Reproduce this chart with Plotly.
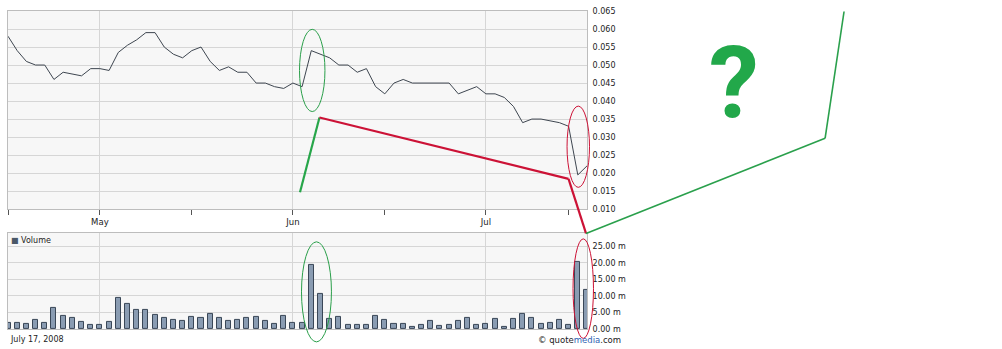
import pandas as pd
import plotly.graph_objects as go

# ---- data -------------------------------------------------------------
trading_days = [d.strftime("%Y-%m-%d") for d in pd.bdate_range("2008-04-17", "2008-07-17")
                if d.strftime("%Y-%m-%d") not in ("2008-05-26", "2008-07-04")]

price = [0.058, 0.054, 0.051, 0.050, 0.050, 0.046, 0.048, 0.0475, 0.047, 0.049,
         0.049, 0.0485, 0.0535, 0.0555, 0.057, 0.059, 0.059, 0.055, 0.053, 0.052,
         0.054, 0.055, 0.051, 0.0485, 0.0495, 0.048, 0.048, 0.045, 0.045, 0.044,
         0.0435, 0.045, 0.044, 0.054, 0.053, 0.052, 0.050, 0.050, 0.048, 0.049,
         0.044, 0.042, 0.045, 0.046, 0.045, 0.045, 0.045, 0.045, 0.045, 0.042,
         0.043, 0.044, 0.042, 0.042, 0.041, 0.0385, 0.034, 0.035, 0.035, 0.0345,
         0.034, 0.033, 0.0195, 0.022]

volume_m = [1.7, 1.7, 1.4, 2.6, 1.7, 6.5, 4.1, 3.5, 2.0, 1.1,
            1.1, 2.0, 9.5, 7.7, 5.9, 5.9, 4.4, 3.2, 2.6, 2.3,
            3.8, 3.2, 4.7, 3.5, 2.3, 2.6, 3.5, 3.8, 2.3, 1.4,
            4.1, 1.7, 1.7, 19.2, 10.5, 2.9, 3.8, 1.1, 1.1, 1.1,
            4.1, 2.6, 1.4, 1.4, 0.5, 1.1, 2.3, 0.8, 1.1, 2.3,
            3.2, 1.1, 1.4, 2.9, 0.5, 2.9, 4.7, 3.2, 1.4, 1.7,
            2.6, 1.1, 20.3, 11.7]

month_days = ["2008-05-01", "2008-06-02", "2008-07-01"]
month_labels = ["May", "Jun", "Jul"]
mid_days = ["2008-04-17", "2008-05-15", "2008-06-16", "2008-07-15"]

price_ticks = [0.010, 0.015, 0.020, 0.025, 0.030, 0.035, 0.040, 0.045, 0.050, 0.055, 0.060, 0.065]
vol_ticks = [0, 5, 10, 15, 20, 25]
vol_tick_text = ["0.00 m", "5.00 m", "10.00 m", "15.00 m", "20.00 m", "25.00 m"]

# ---- figure -----------------------------------------------------------
idx = list(range(len(trading_days)))
major = [trading_days.index(d) for d in month_days]
minor = [trading_days.index(d) for d in mid_days]

W, H = 1002, 349
ML, MR, MT, MB = 7, 415, 8, 20
PW, PH = W - ML - MR, H - MT - MB


def xp(px):
    return (px - ML) / PW


def yp(py):
    return (H - MB - py) / PH


FONT = "DejaVu Sans, Verdana, sans-serif"
GRID = "#d6d6d6"
BORDER = "#bdbdbd"

fig = go.Figure()
fig.add_trace(go.Scatter(x=idx, y=price, mode="lines",
                         line=dict(color="#3e4650", width=1), xaxis="x", yaxis="y",
                         showlegend=False, hoverinfo="skip"))
fig.add_trace(go.Bar(x=idx, y=volume_m, width=0.55,
                     marker=dict(color="#8a9cb2", line=dict(color="#3a4757", width=1)),
                     xaxis="x2", yaxis="y2", showlegend=False, hoverinfo="skip"))

price_top, price_bot = 8, 208
vol_top, vol_bot = 232, 329

common_x = dict(range=[0, len(idx) - 1], showline=True, mirror=True, linecolor=BORDER,
                linewidth=1, showgrid=True, gridcolor=GRID, zeroline=False,
                tickvals=major, fixedrange=True)

fig.update_layout(
    width=W, height=H,
    margin=dict(l=ML, r=MR, t=MT, b=MB),
    paper_bgcolor="white", plot_bgcolor="#f7f7f7",
    font=dict(family=FONT, size=8, color="#222222"),
    bargap=0,
    xaxis=dict(**common_x, domain=[0, 1], anchor="y", ticktext=month_labels,
               ticks="outside", ticklen=5, tickcolor="#555555",
               minor=dict(tickvals=minor, ticks="outside", ticklen=5, tickcolor="#555555", showgrid=False),
               tickfont=dict(size=8.5, color="#222222"), ticklabelstandoff=0),
    yaxis=dict(domain=[yp(price_bot), yp(price_top)], range=[0.010, 0.065], side="right",
               tickvals=price_ticks, tickformat=".3f", showgrid=True, gridcolor=GRID,
               showline=True, mirror=True, linecolor=BORDER, zeroline=False,
               ticks="", tickfont=dict(size=8, color="#222222"), anchor="x",
               ticklabelstandoff=3),
    xaxis2=dict(**common_x, domain=[0, 1], anchor="y2", showticklabels=False, ticks=""),
    yaxis2=dict(domain=[yp(vol_bot), yp(vol_top)], range=[0, 29], side="right",
                tickvals=vol_ticks, ticktext=vol_tick_text, showgrid=True, gridcolor=GRID,
                showline=True, mirror=True, linecolor=BORDER, zeroline=False,
                ticks="", tickfont=dict(size=8, color="#222222"), anchor="x2",
                ticklabelstandoff=3),
)

# ---- annotation overlay (pixel positions converted to paper coords) ----
GREEN = "#2a9f4a"
RED = "#cc1236"
shapes = []


def ellipse(x0, x1, y0, y1, color):
    shapes.append(dict(type="circle", xref="paper", yref="paper",
                       x0=xp(x0), x1=xp(x1), y0=yp(y1), y1=yp(y0),
                       line=dict(color=color, width=1)))


def seg(pts, color, width):
    for (a, b), (c, d) in zip(pts[:-1], pts[1:]):
        shapes.append(dict(type="line", xref="paper", yref="paper",
                           x0=xp(a), y0=yp(b), x1=xp(c), y1=yp(d),
                           line=dict(color=color, width=width)))


ellipse(299, 324.5, 26.5, 109.5, GREEN)
ellipse(567, 589.5, 104, 186, RED)
ellipse(301, 331, 241, 342, GREEN)
ellipse(573, 593.5, 238, 338.5, RED)
seg([(299.5, 191), (319, 115.5)], "#27a64a", 2.2)
seg([(319, 115.5), (568.5, 177.5), (586, 232.5)], RED, 2.2)
seg([(586, 232.5), (825.5, 136.5), (844.5, 8.5)], "#2aa04c", 1.6)
fig.update_layout(shapes=shapes)

fig.add_annotation(xref="paper", yref="paper", x=xp(734), y=yp(80), text="<b>?</b>",
                   showarrow=False, xanchor="center", yanchor="middle",
                   font=dict(family="Roboto, DejaVu Sans, sans-serif", size=100, color="#22a84a"))
fig.add_annotation(xref="paper", yref="paper", x=xp(8), y=yp(240),
                   text="<span style='color:#4a5868'>■</span> Volume", showarrow=False,
                   xanchor="left", yanchor="middle", font=dict(size=8, color="#222222"))
fig.add_annotation(xref="paper", yref="paper", x=xp(7), y=yp(340), text="July 17, 2008",
                   showarrow=False, xanchor="left", yanchor="middle",
                   font=dict(size=8, color="#222222"))
fig.add_annotation(xref="paper", yref="paper", x=xp(623), y=yp(340),
                   text="© quote<span style='color:#2f5fb3'>media</span>.com",
                   showarrow=False, xanchor="right", yanchor="middle",
                   font=dict(size=8.5, color="#222222"))

fig.write_html("out.html", config=dict(displayModeBar=False))
